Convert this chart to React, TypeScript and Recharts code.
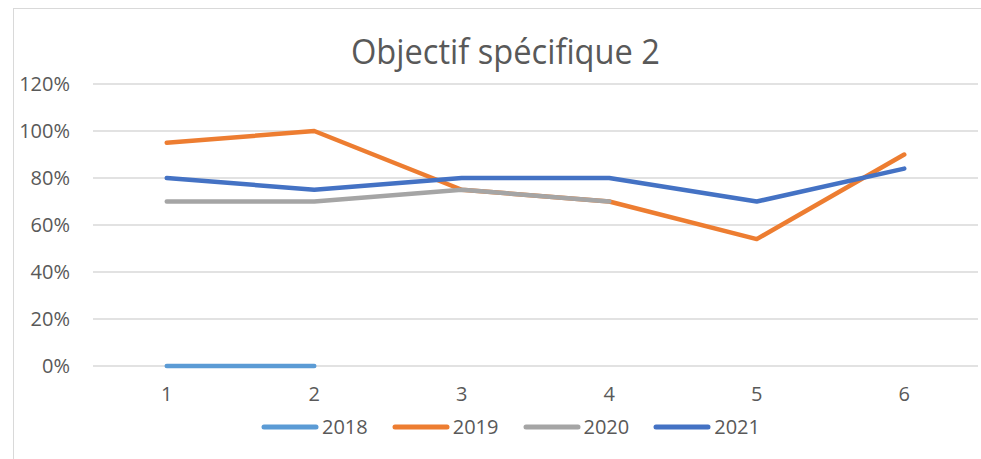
import React from "react";
import { LineChart, Line, XAxis, YAxis, CartesianGrid } from "recharts";

const categories = ["1", "2", "3", "4", "5", "6"];
const s2018: (number | null)[] = [0, 0, null, null, null, null];
const s2019: (number | null)[] = [95, 100, 75, 70, 54, 90];
const s2020: (number | null)[] = [70, 70, 75, 70, null, null];
const s2021: (number | null)[] = [80, 75, 80, 80, 70, 84];
const yTicks = [0, 20, 40, 60, 80, 100, 120];
const title = "Objectif spécifique 2";

const seriesDefs = [
  { key: "2018", values: s2018, color: "#5B9BD5" },
  { key: "2019", values: s2019, color: "#ED7D31" },
  { key: "2020", values: s2020, color: "#A5A5A5" },
  { key: "2021", values: s2021, color: "#4472C4" },
];

const data = categories.map((c, i) => {
  const row: Record<string, any> = { cat: c };
  seriesDefs.forEach((s) => {
    row[s.key] = s.values[i];
  });
  return row;
});

const FONT = "'Open Sans', sans-serif";
const TXT = "#595959";

export default function App() {
  return (
    <div style={{ position: "absolute", left: 0, top: 0, width: 981, height: 459, background: "#fff", overflow: "hidden" }}>
      <div style={{ position: "absolute", left: 13, top: 8, width: 1000, height: 500, borderLeft: "1.5px solid #d9d9d9", borderTop: "1.5px solid #d9d9d9" }} />
      <svg style={{ position: "absolute", left: 0, top: 0 }} width={981} height={90}>
        <text x={351} y={64} fontFamily={FONT} fontSize={35} fill={TXT} textLength={309} lengthAdjust="spacingAndGlyphs">
          {title}
        </text>
      </svg>
      <div style={{ position: "absolute", left: 0, top: 0 }}>
        <LineChart width={981} height={459} data={data} margin={{ top: 84, right: 3, bottom: 63, left: 0 }}>
          <CartesianGrid vertical={false} stroke="#d9d9d9" strokeWidth={1.5} />
          <XAxis
            dataKey="cat"
            height={30}
            padding={{ left: 73.75, right: 73.75 }}
            axisLine={false}
            tickLine={false}
            tickSize={0}
            tickMargin={21}
            tick={{ fill: TXT, fontSize: 20, fontFamily: FONT }}
            interval={0}
          />
          <YAxis
            width={93}
            domain={[0, 120]}
            ticks={yTicks}
            axisLine={false}
            tickLine={false}
            tickSize={0}
            tickMargin={23}
            tickFormatter={(v: number) => `${v}%`}
            tick={{ fill: TXT, fontSize: 20, fontFamily: FONT }}
            interval={0}
          />
          {seriesDefs.map((s) => (
            <Line
              key={s.key}
              dataKey={s.key}
              stroke={s.color}
              strokeWidth={4.5}
              strokeLinecap="round"
              strokeLinejoin="round"
              dot={false}
              activeDot={false}
              isAnimationActive={false}
              type="linear"
            />
          ))}
        </LineChart>
      </div>
      <div style={{ position: "absolute", left: 261, top: 413, display: "flex", alignItems: "center", fontFamily: FONT, fontSize: 20, color: TXT }}>
        {seriesDefs.map((s, i) => (
          <div key={s.key} style={{ display: "flex", alignItems: "center", marginRight: i < seriesDefs.length - 1 ? 24 : 0 }}>
            <svg width={58} height={10} style={{ marginRight: 3 }}>
              <line x1={3} y1={5} x2={55} y2={5} stroke={s.color} strokeWidth={5} strokeLinecap="round" />
            </svg>
            <span style={{ lineHeight: "28px" }}>{s.key}</span>
          </div>
        ))}
      </div>
    </div>
  );
}
